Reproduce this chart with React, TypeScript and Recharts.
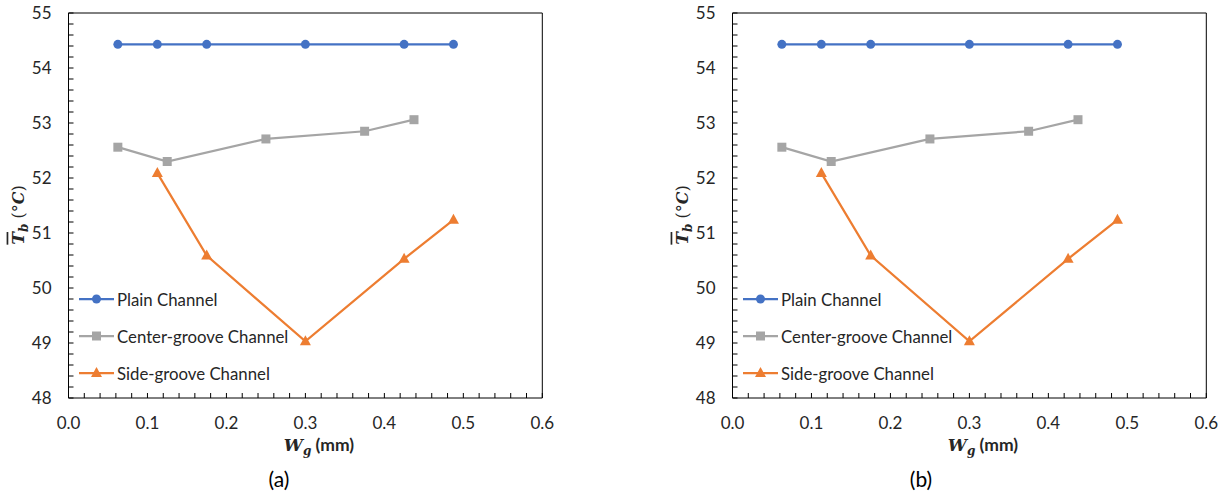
import { LineChart, Line, XAxis, YAxis, ReferenceLine, Label } from 'recharts';

// W_g (mm) positions and bulk temperature (°C) for each channel type
const plainX = [0.0625, 0.1125, 0.175, 0.3, 0.425, 0.4875];
const plainT = [54.43, 54.43, 54.43, 54.43, 54.43, 54.43];

const centerX = [0.0625, 0.125, 0.25, 0.375, 0.4375];
const centerT = [52.56, 52.3, 52.71, 52.85, 53.06];

const sideX = [0.1125, 0.175, 0.3, 0.425, 0.4875];
const sideT = [52.09, 50.59, 49.03, 50.53, 51.24];

const xMajor = [0, 0.1, 0.2, 0.3, 0.4, 0.5, 0.6];
const yMajor = [48, 49, 50, 51, 52, 53, 54, 55];

const seriesNames = ['Plain Channel', 'Center-groove Channel', 'Side-groove Channel'];

const BLUE = '#4472C4';
const GRAY = '#A5A5A5';
const ORANGE = '#ED7D31';
const TEXT = '#262626';
const SANS = 'Lato, "Open Sans", sans-serif';
const SERIF = '"DejaVu Serif", "Liberation Serif", serif';

const toRows = (xs: number[], ys: number[]) => xs.map((x, i) => ({ x, t: ys[i] }));
const plainData = toRows(plainX, plainT);
const centerData = toRows(centerX, centerT);
const sideData = toRows(sideX, sideT);

// minor ticks between majors (5 parts on both axes)
const withMinor = (major: number[]) => {
  const out: number[] = [];
  major.forEach((m, i) => {
    out.push(m);
    if (i < major.length - 1) {
      const step = (major[i + 1] - m) / 5;
      for (let k = 1; k < 5; k++) out.push(m + step * k);
    }
  });
  return out;
};
const xTicks = withMinor(xMajor);
const yTicks = withMinor(yMajor);

const isMajor = (v: number, list: number[]) => list.some((m) => Math.abs(m - v) < 1e-6);

const XTick = (props: any) => {
  const { x, y, payload } = props;
  const v = payload.value;
  return (
    <g>
      <line x1={x} x2={x} y1={y} y2={y - 5} stroke="#000" strokeWidth={1} />
      {isMajor(v, xMajor) && (
        <text x={x} y={y + 25} dy="0.35em" textAnchor="middle" fontFamily={SANS} fontSize={17} fill={TEXT}>
          {v.toFixed(1)}
        </text>
      )}
    </g>
  );
};

const YTick = (props: any) => {
  const { x, y, payload } = props;
  const v = payload.value;
  return (
    <g>
      <line x1={x} x2={x + 5} y1={y} y2={y} stroke="#000" strokeWidth={1} />
      {isMajor(v, yMajor) && (
        <text x={x - 17} y={y} dy="0.35em" textAnchor="end" fontFamily={SANS} fontSize={17} fill={TEXT}>
          {Math.round(v)}
        </text>
      )}
    </g>
  );
};

const CircleDot = (p: any) => <circle key={p.index} cx={p.cx} cy={p.cy} r={4.5} fill={BLUE} />;
const SquareDot = (p: any) => <rect key={p.index} x={p.cx - 4.5} y={p.cy - 4.5} width={9} height={9} fill={GRAY} />;
const TriDot = (p: any) => (
  <polygon
    key={p.index}
    points={`${p.cx},${p.cy - 6} ${p.cx + 5.5},${p.cy + 4} ${p.cx - 5.5},${p.cy + 4}`}
    fill={ORANGE}
  />
);

const legendIcons = [
  (cx: number, cy: number) => <circle cx={cx} cy={cy} r={4.5} fill={BLUE} />,
  (cx: number, cy: number) => <rect x={cx - 4.5} y={cy - 4.5} width={9} height={9} fill={GRAY} />,
  (cx: number, cy: number) => <polygon points={`${cx},${cy - 6} ${cx + 5.5},${cy + 4} ${cx - 5.5},${cy + 4}`} fill={ORANGE} />,
];
const legendColors = [BLUE, GRAY, ORANGE];

// legend drawn as an overlay so it does not take space from the plot
const LegendBox = () => (
  <div style={{ position: 'absolute', left: 79, top: 280.5 }}>
    {seriesNames.map((name, i) => (
      <div key={name} style={{ height: 37, display: 'flex', alignItems: 'center' }}>
        <svg width={38} height={14} style={{ display: 'block' }}>
          <line x1={0} x2={35} y1={7} y2={7} stroke={legendColors[i]} strokeWidth={2.25} />
          {legendIcons[i](17.5, 7)}
        </svg>
        <span style={{ fontFamily: SANS, fontSize: 16.8, color: TEXT, whiteSpace: 'nowrap' }}>{name}</span>
      </div>
    ))}
  </div>
);

function Panel({ left, caption, captionX }: { left: number; caption: string; captionX: number }) {
  return (
    <div style={{ position: 'absolute', left, top: 0, width: 564, height: 495 }}>
      <LineChart width={564} height={495} margin={{ top: 13, right: 21.7, bottom: 67, left: 0 }}>
        <XAxis
          dataKey="x"
          type="number"
          domain={[0, 0.6]}
          ticks={xTicks}
          interval={0}
          tick={<XTick />}
          tickSize={0}
          tickMargin={0}
          tickLine={false}
          axisLine={{ stroke: '#000', strokeWidth: 1 }}
          height={30}
          allowDuplicatedCategory={false}
        >
          <Label
            content={() => (
              <g>
                <text x={319} y={445} dy="0.35em" textAnchor="middle" fill={TEXT}>
                  <tspan fontFamily={SERIF} fontWeight="bold" fontStyle="italic" fontSize={17}>W</tspan>
                  <tspan fontFamily={SERIF} fontWeight="bold" fontStyle="italic" fontSize={12} dy={4}>g</tspan>
                  <tspan fontFamily={SANS} fontWeight="bold" fontSize={17.5} dy={-4}> (mm)</tspan>
                </text>
                <text x={captionX} y={480} dy="0.35em" textAnchor="middle" fontFamily={SANS} fontSize={21} fill="#000">
                  {caption}
                </text>
              </g>
            )}
          />
        </XAxis>
        <YAxis
          type="number"
          domain={[48, 55]}
          ticks={yTicks}
          interval={0}
          tick={<YTick />}
          tickSize={0}
          tickMargin={0}
          tickLine={false}
          axisLine={{ stroke: '#000', strokeWidth: 1 }}
          width={68.5}
        >
          <Label
            content={() => (
              <text transform="translate(18,215) rotate(-90)" textAnchor="middle" dy="0.35em" fill={TEXT}>
                <tspan fontFamily={SERIF} fontWeight="bold" fontStyle="italic" fontSize={17} style={{ textDecoration: 'overline' }}>T</tspan>
                <tspan fontFamily={SERIF} fontWeight="bold" fontStyle="italic" fontSize={12} dy={4}>b</tspan>
                <tspan fontFamily={SERIF} fontSize={16} dy={-4}> (°</tspan>
                <tspan fontFamily={SERIF} fontStyle="italic" fontWeight="bold" fontSize={16}>C</tspan>
                <tspan fontFamily={SERIF} fontSize={16}>)</tspan>
              </text>
            )}
          />
        </YAxis>
        <ReferenceLine x={0.6} stroke="#000" strokeWidth={1} ifOverflow="visible" />
        <ReferenceLine y={55} stroke="#000" strokeWidth={1} ifOverflow="visible" />
        <Line data={plainData} dataKey="t" name={seriesNames[0]} stroke={BLUE} strokeWidth={2.25} dot={CircleDot} isAnimationActive={false} />
        <Line data={centerData} dataKey="t" name={seriesNames[1]} stroke={GRAY} strokeWidth={2.25} dot={SquareDot} isAnimationActive={false} />
        <Line data={sideData} dataKey="t" name={seriesNames[2]} stroke={ORANGE} strokeWidth={2.25} dot={TriDot} isAnimationActive={false} />
      </LineChart>
      <LegendBox />
    </div>
  );
}

export default function App() {
  return (
    <div style={{ position: 'absolute', left: 0, top: 0, width: 1228, height: 495, overflow: 'hidden', background: '#fff' }}>
      <Panel left={0} caption="(a)" captionX={279} />
      <Panel left={664} caption="(b)" captionX={257} />
    </div>
  );
}
